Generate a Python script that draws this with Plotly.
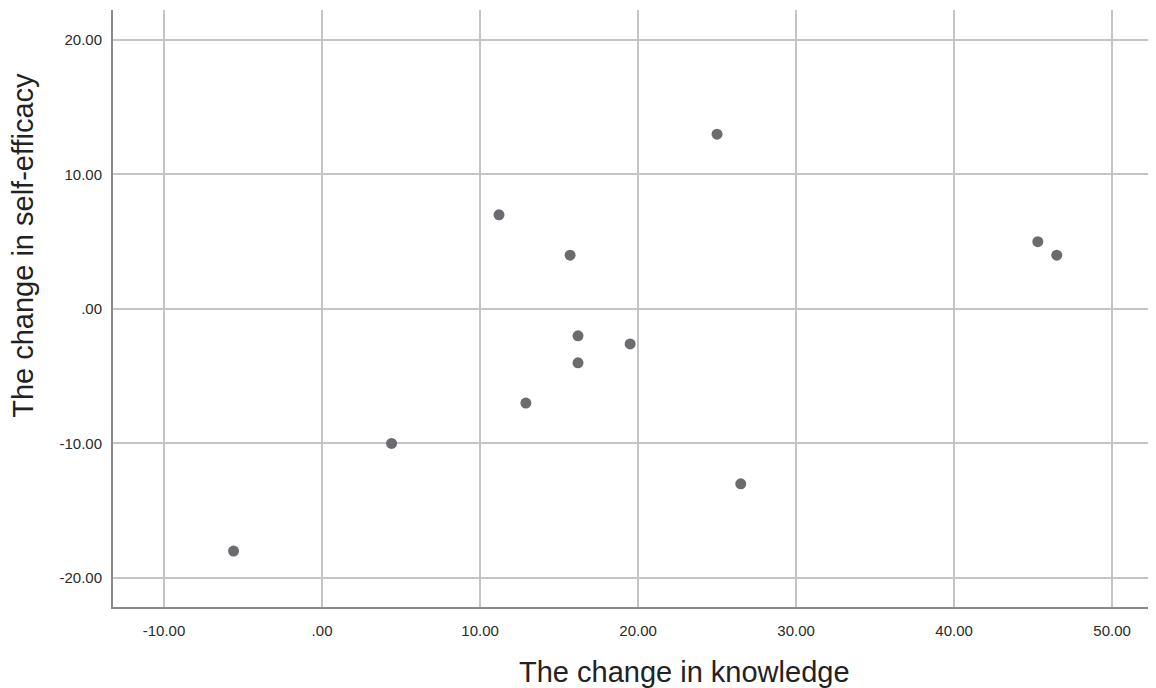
import plotly.graph_objects as go

knowledge_change = [-5.6, 4.4, 11.2, 12.9, 15.7, 16.2, 16.2, 19.5, 25.0, 26.5, 45.3, 46.5]
self_efficacy_change = [-18.0, -10.0, 7.0, -7.0, 4.0, -2.0, -4.0, -2.6, 13.0, -13.0, 5.0, 4.0]

x_tick_vals = [-10, 0, 10, 20, 30, 40, 50]
x_tick_text = ["-10.00", ".00", "10.00", "20.00", "30.00", "40.00", "50.00"]
y_tick_vals = [-20, -10, 0, 10, 20]
y_tick_text = ["-20.00", "-10.00", ".00", "10.00", "20.00"]

x_title = "The change in knowledge"
y_title = "The change in self-efficacy"

fig = go.Figure()
fig.add_trace(go.Scatter(
    x=knowledge_change, y=self_efficacy_change, mode="markers",
    marker=dict(color="#6b6c70", size=11, line=dict(width=0)),
    showlegend=False,
))

font_family = "Liberation Sans, Arial, sans-serif"
tick_font = dict(size=15, color="#2a2a2a", family=font_family)
fig.update_layout(
    width=1148, height=680,
    margin=dict(l=105, r=0, t=2, b=81),
    paper_bgcolor="white", plot_bgcolor="white",
    font=dict(family=font_family, color="#222222"),
    xaxis=dict(
        range=[-13.23, 52.78], tickvals=x_tick_vals, ticktext=x_tick_text,
        showgrid=True, gridcolor="#c4c4c6", gridwidth=1.5,
        showline=True, linecolor="#8a8a8c", linewidth=2,
        zeroline=False, ticks="", tickfont=tick_font, ticklabelstandoff=9,
    ),
    yaxis=dict(
        range=[-22.16, 22.23], tickvals=y_tick_vals, ticktext=y_tick_text,
        showgrid=True, gridcolor="#c4c4c6", gridwidth=1.5,
        showline=True, linecolor="#8a8a8c", linewidth=2,
        zeroline=False, ticks="", tickfont=tick_font, ticklabelstandoff=6,
    ),
    annotations=[
        dict(text=x_title, xref="paper", yref="paper", x=0.548, y=0,
             xanchor="center", yanchor="middle", yshift=-65, showarrow=False,
             font=dict(size=29, color="#222222", family=font_family)),
        dict(text=y_title, xref="paper", yref="paper", x=0, y=0.605,
             xanchor="center", yanchor="middle", xshift=-90, textangle=-90,
             showarrow=False, font=dict(size=29, color="#222222", family=font_family)),
    ],
)

fig.write_html("out.html")
